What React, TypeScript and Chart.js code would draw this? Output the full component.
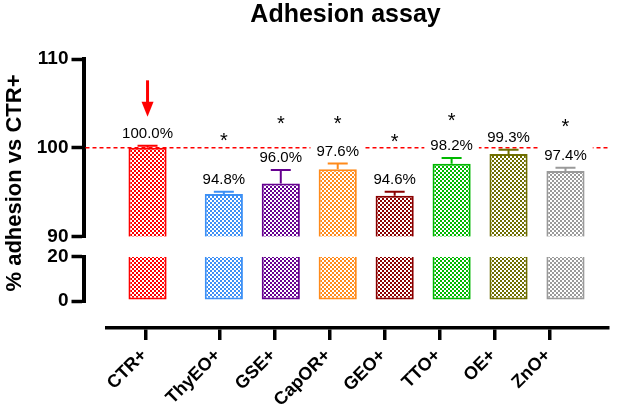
import React, { useEffect, useRef } from 'react';
import { Chart, registerables } from 'chart.js';

Chart.register(...registerables);

// ---------- data ----------
const categories = ['CTR+', 'ThyEO+', 'GSE+', 'CapOR+', 'GEO+', 'TTO+', 'OE+', 'ZnO+'];
const adhesion = [100.0, 94.8, 96.0, 97.6, 94.6, 98.2, 99.3, 97.4];
const sem = [0.25, 0.25, 1.5, 0.65, 0.45, 0.65, 0.5, 0.35];
const significance = ['', '*', '*', '*', '*', '*', '', '*'];
const significanceLevel = [null, 101.4, 103.4, 103.4, 101.35, 103.7, null, 103.05];
const upperRange = [90, 110];
const lowerRange = [0, 20];
const referenceLine = 100;
const arrowFrom = 107.6;
const arrowTo = 103.5;

// ---------- styles ----------
const colors = ['#ff0000', '#3d90f5', '#660090', '#ff8a1a', '#8b0000', '#00b800', '#6e6e00', '#9a9a9a'];
const FONT = '"Liberation Sans", Arial, Helvetica, sans-serif';
const CTR_GAP = 1.34; // extra spacing after the control bar (in category units)
const positions = categories.map((_, i) => (i === 0 ? 0 : i - 1 + CTR_GAP));

function makeChecker(ctx: CanvasRenderingContext2D, color: string) {
  const c = document.createElement('canvas');
  c.width = 4;
  c.height = 4;
  const g = c.getContext('2d')!;
  g.fillStyle = '#ffffff';
  g.fillRect(0, 0, 4, 4);
  g.fillStyle = color;
  g.fillRect(0, 0, 2, 2);
  g.fillRect(2, 2, 2, 2);
  return ctx.createPattern(c, 'repeat');
}

const annotationsPlugin = {
  id: 'annotationsPlugin',
  afterDatasetsDraw(chart: any) {
    const ctx: CanvasRenderingContext2D = chart.ctx;
    const xs = chart.scales.xBar;
    const ys = chart.scales.yTop;
    const area = chart.chartArea;
    ctx.save();

    // reference dashed line
    const yRef = ys.getPixelForValue(referenceLine);
    ctx.strokeStyle = '#ff0000';
    ctx.lineWidth = 1.5;
    ctx.setLineDash([4, 3]);
    ctx.beginPath();
    ctx.moveTo(area.left + 2, yRef);
    ctx.lineTo(area.right, yRef);
    ctx.stroke();
    ctx.setLineDash([]);

    // error bars
    adhesion.forEach((v, i) => {
      const x = xs.getPixelForValue(positions[i]);
      const yBar = ys.getPixelForValue(v);
      const yErr = ys.getPixelForValue(v + sem[i]);
      ctx.strokeStyle = colors[i];
      ctx.lineWidth = 2;
      ctx.beginPath();
      ctx.moveTo(x, yBar);
      ctx.lineTo(x, yErr);
      ctx.moveTo(x - 10, yErr);
      ctx.lineTo(x + 10, yErr);
      ctx.stroke();
    });

    // value labels (white background hides the dashed line)
    ctx.font = `15px ${FONT}`;
    ctx.textAlign = 'center';
    ctx.textBaseline = 'middle';
    adhesion.forEach((v, i) => {
      const x = xs.getPixelForValue(positions[i]);
      const yErr = ys.getPixelForValue(v + sem[i]);
      const ty = yErr - 13;
      const text = `${v.toFixed(1)}%`;
      const w = ctx.measureText(text).width;
      ctx.fillStyle = '#ffffff';
      ctx.fillRect(x - w / 2 - 6, ty - 8, w + 12, 17);
      ctx.fillStyle = '#000000';
      ctx.fillText(text, x, ty + 1);
    });

    // significance asterisks
    ctx.font = `20px ${FONT}`;
    ctx.textBaseline = 'alphabetic';
    significance.forEach((s, i) => {
      const lvl = significanceLevel[i];
      if (!s || lvl == null) return;
      const x = xs.getPixelForValue(positions[i]);
      ctx.fillStyle = '#000000';
      ctx.fillText(s, x, ys.getPixelForValue(lvl) + 12);
    });

    // red arrow above control
    const ax = xs.getPixelForValue(positions[0]);
    const a0 = ys.getPixelForValue(arrowFrom);
    const a1 = ys.getPixelForValue(arrowTo);
    ctx.strokeStyle = '#ff0000';
    ctx.fillStyle = '#ff0000';
    ctx.lineWidth = 3;
    ctx.beginPath();
    ctx.moveTo(ax, a0);
    ctx.lineTo(ax, a1 - 12);
    ctx.stroke();
    ctx.beginPath();
    ctx.moveTo(ax - 6, a1 - 15);
    ctx.lineTo(ax + 6, a1 - 15);
    ctx.lineTo(ax, a1);
    ctx.closePath();
    ctx.fill();

    ctx.restore();
  },
};

const blankAxis = (axis: 'x' | 'y', position: string, stack: string, weight: number, width?: number) => ({
  type: 'linear',
  axis,
  position,
  stack,
  stackWeight: weight,
  min: 0,
  max: 1,
  offset: false,
  ticks: { display: false },
  grid: { display: false, drawTicks: false, offset: false },
  border: { display: false },
  afterFit: (s: any) => {
    if (width !== undefined) {
      if (axis === 'y') s.width = width;
      else s.height = width;
    }
  },
});

const yAxisStyle = (min: number, max: number, step: number, weight: number) => ({
  type: 'linear',
  axis: 'y',
  position: 'left',
  stack: 'ys',
  stackWeight: weight,
  min,
  max,
  ticks: {
    stepSize: step,
    color: '#000000',
    padding: 3,
    font: { family: FONT, size: 19, weight: 'bold' },
  },
  grid: {
    display: true,
    drawOnChartArea: false,
    drawTicks: true,
    tickLength: 12,
    color: '#000000',
    lineWidth: 3,
    tickColor: '#000000',
    tickWidth: 3.5,
  },
  border: { display: true, color: '#000000', width: 4 },
  afterFit: (s: any) => {
    s.width = 53.5;
  },
});

export default function App() {
  const canvasRef = useRef<HTMLCanvasElement>(null);

  useEffect(() => {
    const canvas = canvasRef.current!;
    const ctx = canvas.getContext('2d')!;
    const patterns = colors.map((c) => makeChecker(ctx, c));

    const chart = new Chart(canvas, {
      type: 'bar',
      data: {
        datasets: [
          {
            label: 'upper',
            xAxisID: 'xBar',
            yAxisID: 'yTop',
            data: positions.map((p, i) => ({ x: p, y: [upperRange[0], adhesion[i]] })) as any,
            backgroundColor: patterns as any,
            borderColor: colors,
            borderWidth: 2,
            borderSkipped: 'start',
            grouped: false,
            categoryPercentage: 1,
            barPercentage: 0.67,
          },
          {
            label: 'lower',
            xAxisID: 'xBar',
            yAxisID: 'yBot',
            data: positions.map((p, i) => ({ x: p, y: Math.min(adhesion[i], lowerRange[1]) })) as any,
            backgroundColor: patterns as any,
            borderColor: colors,
            borderWidth: 2,
            borderSkipped: 'top',
            grouped: false,
            categoryPercentage: 1,
            barPercentage: 0.67,
          },
        ],
      },
      options: {
        animation: false,
        responsive: true,
        maintainAspectRatio: false,
        events: [],
        layout: { padding: { left: 0, right: 4, top: 0, bottom: 0 } },
        plugins: {
          legend: { display: false },
          tooltip: { enabled: false },
          title: {
            display: true,
            text: 'Adhesion assay',
            color: '#000000',
            fullSize: false,
            font: { family: FONT, size: 25, weight: 'bold' },
            padding: { top: 0, bottom: 29 },
          },
        },
        scales: {
          xBar: {
            type: 'linear',
            axis: 'x',
            position: 'bottom',
            display: false,
            min: -1.1246,
            max: 8.078,
            offset: false,
            grid: { offset: false },
            afterBuildTicks: (s: any) => {
              s.ticks = positions.map((v) => ({ value: v }));
            },
          },
          xSpacer: blankAxis('x', 'bottom', 'xs', 24) as any,
          xAxis: {
            type: 'linear',
            axis: 'x',
            position: 'bottom',
            stack: 'xs',
            stackWeight: 512,
            min: -0.711,
            max: 8.388,
            offset: false,
            grid: {
              display: true,
              offset: false,
              drawOnChartArea: false,
              drawTicks: true,
              tickLength: 12,
              color: '#000000',
              lineWidth: 3.5,
              tickColor: '#000000',
              tickWidth: 3.5,
            },
            border: { display: true, color: '#000000', width: 3.5 },
            ticks: {
              autoSkip: false,
              maxRotation: 45,
              minRotation: 45,
              padding: 5,
              labelOffset: -2,
              color: '#000000',
              font: { family: FONT, size: 18, weight: 'bold' },
              callback: (_v: any, i: number) => categories[i],
            },
            afterBuildTicks: (s: any) => {
              s.ticks = positions.map((v) => ({ value: v }));
            },
            afterFit: (s: any) => {
              s.height = 91;
            },
          } as any,
          yPad: blankAxis('y', 'left', 'ys', 27, 53.5) as any,
          yBot: yAxisStyle(lowerRange[0], lowerRange[1], 20, 44.3) as any,
          yGap: blankAxis('y', 'left', 'ys', 20, 53.5) as any,
          yTop: yAxisStyle(upperRange[0], upperRange[1], 10, 177.7) as any,
          yTitlePad: blankAxis('y', 'left', 'T', 21, 30) as any,
          yTitle: {
            ...blankAxis('y', 'left', 'T', 248, 30),
            title: {
              display: true,
              text: '% adhesion vs CTR+',
              color: '#000000',
              font: { family: FONT, size: 22, weight: 'bold' },
              padding: { top: 2, bottom: 0 },
            },
          } as any,
        },
      },
      plugins: [annotationsPlugin],
    });

    return () => chart.destroy();
  }, []);

  return (
    <div style={{ position: 'fixed', left: 0, top: 0, width: 624, height: 419, background: '#ffffff' }}>
      <canvas ref={canvasRef} />
    </div>
  );
}
